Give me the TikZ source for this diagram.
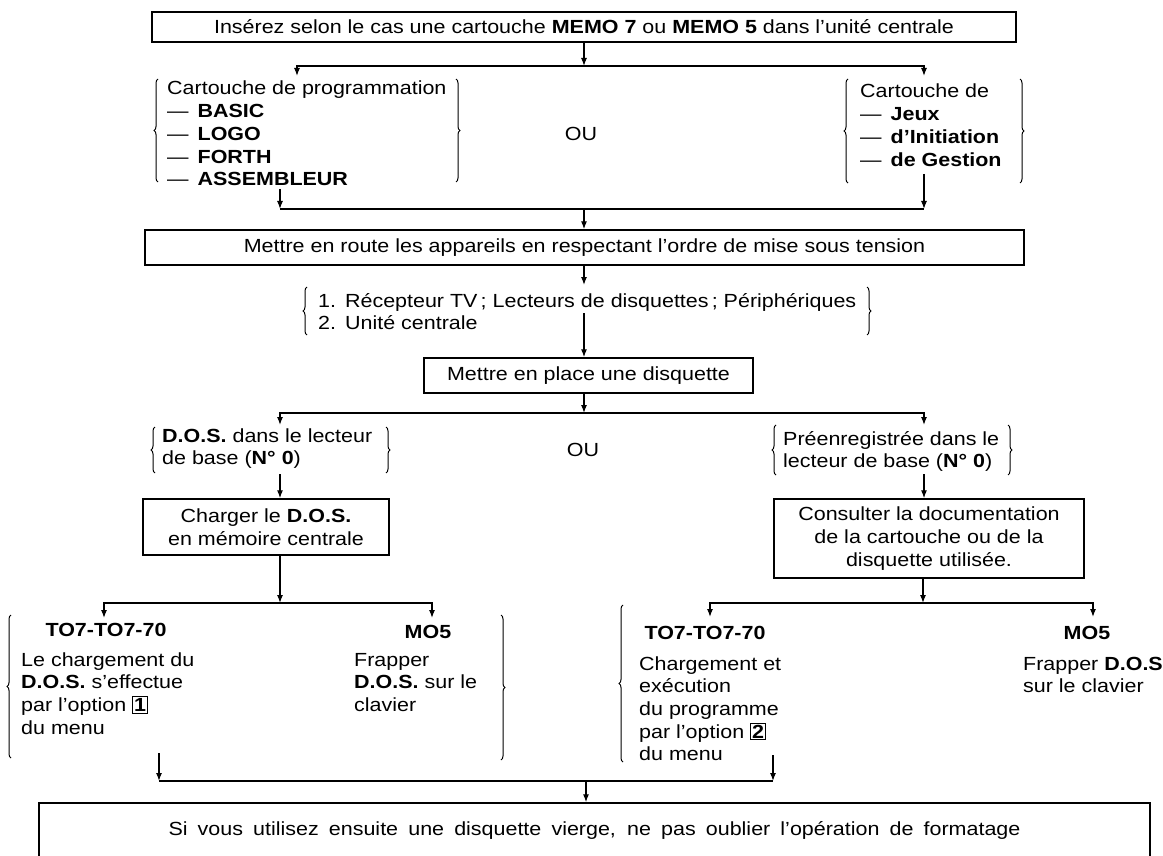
\documentclass[tikz,border=0pt]{standalone}
\usepackage{fontspec}
\setmainfont{Liberation Sans}[FakeStretch=1.13]
\usetikzlibrary{arrows.meta,decorations.pathreplacing}
\newcommand\keyb[1]{{\setlength\fboxsep{1.2pt}\setlength\fboxrule{0.8pt}\fbox{\textbf{#1}}}}
\newcommand\fl{\rule{0pt}{15pt}}
\begin{document}
\begin{tikzpicture}[x=1pt,y=1pt,
  every node/.style={font=\fontsize{19}{22.7}\selectfont, inner sep=0pt},
  box/.style={draw, line width=1.4pt, align=center},
  arr/.style={line width=1.2pt, -{Latex[length=8pt,width=6pt]}},
  ln/.style={line width=1.2pt},
  brc/.style={line width=1pt, decorate, decoration={brace, amplitude=4pt}},
  grp/.style={anchor=north west, align=left}]
\fill[white] (0,0) rectangle (1163,-856);
\useasboundingbox (0,0) rectangle (1163,-856);

% boxes
\node[box, minimum width=864pt, minimum height=30pt] (t1) at (584,-27) {Insérez selon le cas une cartouche \textbf{MEMO 7} ou \textbf{MEMO 5} dans l'unité centrale};
\node[box, minimum width=879pt, minimum height=35pt] (t2) at (584.5,-247.5) {Mettre en route les appareils en respectant l'ordre de mise sous tension};
\node[box, minimum width=329pt, minimum height=35pt] (t3) at (588.5,-375.5) {Mettre en place une disquette};
\node[box, minimum width=246pt, minimum height=56pt] (t4) at (266,-527) {Charger le \textbf{D.O.S.}\\en mémoire centrale};
\node[box, minimum width=310pt, minimum height=79pt] (t5) at (929,-538.5) {Consulter la documentation\\de la cartouche ou de la\\disquette utilisée.};
\node[box, minimum width=1111pt, minimum height=55pt] (t6) at (594.5,-830.5) {\makebox[852pt][s]{Si vous utilisez ensuite une disquette vierge, ne pas oublier l'opération de formatage}};

% groups
\node[grp] (g1) at (167,-79.8) {\fl Cartouche de programmation\\—\hspace{9pt}\textbf{BASIC}\\—\hspace{9pt}\textbf{LOGO}\\—\hspace{9pt}\textbf{FORTH}\\—\hspace{9pt}\textbf{ASSEMBLEUR}};
\draw[brc] (158,-182) -- (158,-79);
\draw[brc] (456,-79) -- (456,-182);
\node (ou1) at (581,-134) {OU};
\node[grp] (g2) at (860,-82.8) {\fl Cartouche de\\—\hspace{9pt}\textbf{Jeux}\\—\hspace{9pt}\textbf{d'Initiation}\\—\hspace{9pt}\textbf{de Gestion}};
\draw[brc] (848,-183) -- (848,-79);
\draw[brc] (1020,-79) -- (1020,-183);

\node[grp] (l1) at (318,-291.8) {\fl 1.\hspace{9pt}Récepteur TV\,; Lecteurs de disquettes\,; Périphériques\\2.\hspace{9pt}Unité centrale};
\draw[brc] (307,-335) -- (307,-287);
\draw[brc] (867,-287) -- (867,-335);

\node[grp] (g3) at (162,-426.8) {\fl\textbf{D.O.S.} dans le lecteur\\de base (\textbf{N° 0})};
\draw[brc] (155,-473) -- (155,-427);
\draw[brc] (386,-427) -- (386,-473);
\node (ou2) at (583,-450) {OU};
\node[grp] (g4) at (783,-429.8) {\fl Préenregistrée dans le\\lecteur de base (\textbf{N° 0})};
\draw[brc] (776,-475) -- (776,-425);
\draw[brc] (1008,-425) -- (1008,-475);

\node (h5a) at (106,-630) {\textbf{TO7-TO7-70}};
\node (h5b) at (428,-632) {\textbf{MO5}};
\node[grp] (g5a) at (21,-650.8) {\fl Le chargement du\\\textbf{D.O.S.} s'effectue\\par l'option \keyb{1}\\du menu};
\node[grp] (g5b) at (354,-650.8) {\fl Frapper\\\textbf{D.O.S.} sur le\\clavier};
\draw[brc] (11,-758) -- (11,-615);
\draw[brc] (501,-615) -- (501,-760);

\node (h6a) at (705,-633) {\textbf{TO7-TO7-70}};
\node (h6b) at (1087,-633) {\textbf{MO5}};
\node[grp] (g6a) at (639,-654.8) {\fl Chargement et\\exécution\\du programme\\par l'option \keyb{2}\\du menu};
\node[grp] (g6b) at (1023,-654.8) {\fl Frapper \textbf{D.O.S}\\sur le clavier};
\draw[brc] (623,-762) -- (623,-605);

% connectors
\coordinate (j1) at (584,-66);
\coordinate (a1) at (297,-76);
\coordinate (a2) at (924,-76);
\draw[arr] (t1.south -| j1) -- (j1);
\draw[arr] (j1) -| (a1);
\draw[arr] (j1) -| (a2);

\coordinate (b1) at (280,-189);
\coordinate (b2) at (924,-174);
\coordinate (j2) at (584,-209);
\draw[ln] (b1 |- j2) -- (b2 |- j2);
\draw[arr] (b1) -- (b1 |- j2);
\draw[arr] (b2) -- (b2 |- j2);
\draw[arr] (j2) -- (j2 |- t2.north);

\coordinate (c1) at (584,-285);
\coordinate (c2) at (584,-313);
\draw[arr] (t2.south -| c1) -- (c1);
\draw[arr] (c2) -- (c2 |- t3.north);

\coordinate (j3) at (584,-413);
\coordinate (d1) at (280,-425);
\coordinate (d2) at (924,-425);
\draw[arr] (t3.south -| j3) -- (j3);
\draw[arr] (j3) -| (d1);
\draw[arr] (j3) -| (d2);

\coordinate (e1) at (280,-474);
\coordinate (e2) at (924,-474);
\draw[arr] (e1) -- (e1 |- t4.north);
\draw[arr] (e2) -- (e2 |- t5.north);

\coordinate (j4) at (280,-603);
\coordinate (f1) at (104,-618);
\coordinate (f2) at (432,-618);
\draw[arr] (t4.south -| j4) -- (j4);
\draw[arr] (j4) -| (f1);
\draw[arr] (j4) -| (f2);

\coordinate (j5) at (923,-603);
\coordinate (k1) at (710,-617);
\coordinate (k2) at (1093,-617);
\draw[arr] (t5.south -| j5) -- (j5);
\draw[arr] (j5) -| (k1);
\draw[arr] (j5) -| (k2);

\coordinate (m1) at (159,-753);
\coordinate (m2) at (773,-755);
\coordinate (j6) at (586,-781);
\draw[ln] (m1 |- j6) -- (m2 |- j6);
\draw[arr] (m1) -- (m1 |- j6);
\draw[arr] (m2) -- (m2 |- j6);
\draw[arr] (j6) -- (j6 |- t6.north);
\end{tikzpicture}
\end{document}
